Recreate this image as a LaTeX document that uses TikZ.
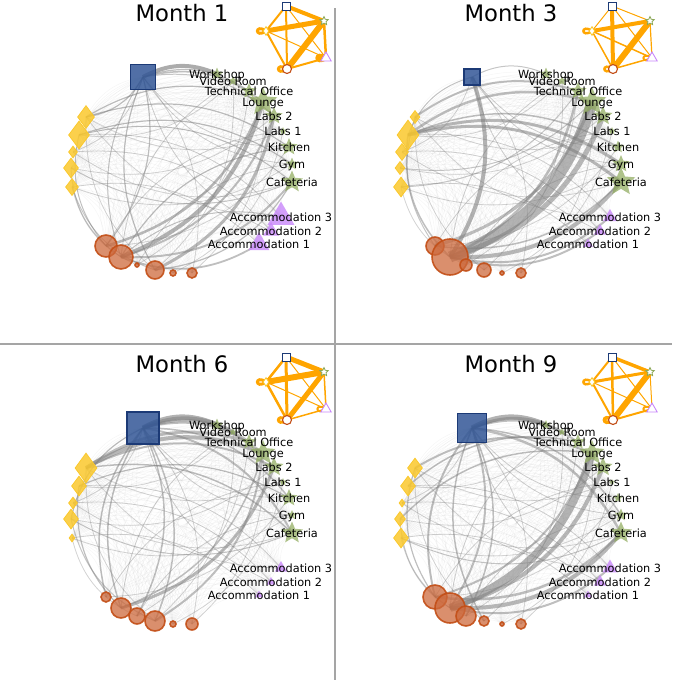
\documentclass[tikz,border=0pt]{standalone}
\usepackage{fontspec}
\setmainfont{DejaVu Sans}
\usetikzlibrary{shapes.geometric}
\definecolor{edgegray}{RGB}{128,128,128}
\definecolor{sqblue}{RGB}{50,86,150}
\definecolor{sqedge}{RGB}{28,58,118}
\definecolor{dyellow}{RGB}{250,200,45}
\definecolor{corange}{RGB}{205,105,60}
\definecolor{corangeedge}{RGB}{195,78,22}
\definecolor{sgreen}{RGB}{140,168,88}
\definecolor{tpurple}{RGB}{200,135,250}
\definecolor{insetorange}{RGB}{255,165,0}
\definecolor{divgray}{RGB}{165,165,165}
\tikzset{
 meshedge/.style={draw=edgegray, draw opacity=0.08, line width=0.5pt},
 midedge/.style={draw=edgegray, draw opacity=0.35, line width=0.8pt},
 mainedge/.style={draw=edgegray},
 curv/.style={bend right=26},
 sqnode/.style={rectangle, fill=sqblue, fill opacity=0.85, draw=sqedge, line width=1.2pt, inner sep=0pt},
 dianode/.style={diamond, fill=dyellow, fill opacity=0.85, draw=dyellow, line width=0.8pt, inner sep=0pt},
 cirnode/.style={circle, fill=corange, fill opacity=0.75, draw=corangeedge, draw opacity=0.9, line width=1.6pt, inner sep=0pt},
 starnode/.style={star, star points=5, star point ratio=2.2, fill=sgreen, fill opacity=0.7, inner sep=0pt},
 trinode/.style={regular polygon, regular polygon sides=3, fill=tpurple, fill opacity=0.8, inner sep=0pt},
 lbl/.style={font=\fontsize{11.3}{13}\selectfont, anchor=base, inner sep=0pt, text=black},
 ttl/.style={font=\fontsize{22.7}{27}\selectfont, anchor=base, inner sep=0pt},
 iedge/.style={draw=insetorange},
 iloop/.style={draw=insetorange, out=145, in=215, looseness=1, min distance=14pt},
 isq/.style={rectangle, draw=sqedge, fill=white, line width=1pt, minimum size=8pt, inner sep=0pt},
 istar/.style={star, star points=5, star point ratio=2.1, draw=sgreen, fill=white, line width=0.8pt, minimum size=9pt, inner sep=0pt},
 idia/.style={diamond, draw=dyellow, fill=white, line width=0.9pt, minimum width=6pt, minimum height=9pt, inner sep=0pt},
 itri/.style={regular polygon, regular polygon sides=3, draw=tpurple, fill=white, line width=0.9pt, minimum size=12pt, inner sep=0pt},
 icir/.style={circle, draw=corangeedge, fill=white, line width=1.1pt, minimum size=9pt, inner sep=0pt},
 divider/.style={draw=divgray, line width=2pt}
}
\def\midlist{B/G7,B/G8,Y1/G6,Y3/G9,Y5/G8,O1/G7,O6/G4,O3/G3,P2/Y3,P1/Y5,O5/G6,Y1/P3,B/P2,O4/G2,Y2/G2,Y4/G5,O6/B,G6/O1,Y3/B,Y5/O3,P3/Y2,G2/O2,Y1/O4,G8/O3}
\newcommand{\panelbody}{%
 \coordinate (B) at (143,77);
 \coordinate (Y1) at (86,117); \coordinate (Y2) at (79,135); \coordinate (Y3) at (73,152);
 \coordinate (Y4) at (71,168); \coordinate (Y5) at (72,187);
 \coordinate (O1) at (106,246); \coordinate (O2) at (121,257); \coordinate (O3) at (137,265);
 \coordinate (O4) at (155,270); \coordinate (O5) at (173,273); \coordinate (O6) at (192,273);
 \coordinate (G1) at (217,74); \coordinate (G2) at (233,81); \coordinate (G3) at (249,91);
 \coordinate (G4) at (263,102); \coordinate (G5) at (274,116); \coordinate (G6) at (283,131);
 \coordinate (G7) at (289,147); \coordinate (G8) at (292,164); \coordinate (G9) at (292,182);
 \coordinate (P3) at (281,217); \coordinate (P2) at (271,231); \coordinate (P1) at (259,244);
 \foreach \a [count=\i] in {B,G1,G2,G3,G4,G5,G6,G7,G8,G9,P3,P2,P1,O6,O5,O4,O3,O2,O1,Y5,Y4,Y3,Y2,Y1}{
   \foreach \b [count=\j] in {B,G1,G2,G3,G4,G5,G6,G7,G8,G9,P3,P2,P1,O6,O5,O4,O3,O2,O1,Y5,Y4,Y3,Y2,Y1}{
     \ifnum\j>\i\relax \draw[meshedge] (\a) to[curv] (\b);\fi
   }
 }
 \foreach \a/\b in \midlist {\draw[midedge] (\a) to[curv] (\b);}
 \foreach \a/\b/\w/\o in \Elist {\draw[mainedge, line width=\w pt, draw opacity=\o] (\a) to[curv] (\b);}
 \foreach \n/\h/\w in \Ylist {\node[dianode, minimum height=\h pt, minimum width=\w pt] (n\n) at (\n) {};}
 \node[sqnode, minimum size=\Bsize pt] (nB) at (B) {};
 \foreach \n/\d in \Olist {\node[cirnode, minimum size=\d pt] (n\n) at (\n) {};}
 \foreach \n/\d in \Glist {\node[starnode, minimum size=\d pt] (n\n) at (\n) {};}
 \foreach \n/\d in \Plist {\node[trinode, minimum size=\d pt] (n\n) at (\n) {};}
 \foreach \n/\t in {G1/Workshop,G2/Video Room,G3/Technical Office,G4/Lounge,G5/Labs 2,G6/Labs 1,G7/Kitchen,G8/Gym,G9/Cafeteria,P3/Accommodation 3,P2/Accommodation 2,P1/Accommodation 1}{\node[lbl, yshift=-4pt] (l\n) at (\n) {\t};}
 \node[ttl] (title) at (182,21) {\paneltitle};
 \begin{scope}[shift={(\ishift,0)}]
  \coordinate (iS) at (286,6); \coordinate (iG) at (324,21); \coordinate (iY) at (266,31);
  \coordinate (iP) at (326,58); \coordinate (iO) at (287,69);
  \foreach \a/\b/\w in \Ilist {\draw[iedge, line width=\w pt] (\a) -- (\b);}
  \foreach \a/\w in \Loops {\draw[iloop, line width=\w pt] (\a) to (\a);}
  \node[isq] (niS) at (iS) {};
  \node[istar] (niG) at (iG) {};
  \node[idia] (niY) at (iY) {};
  \node[itri] (niP) at (iP) {};
  \node[icir] (niO) at (iO) {};
 \end{scope}
}
\begin{document}
\begin{tikzpicture}[x=1pt,y=-1pt]
\useasboundingbox (0,0) rectangle (672,680);
% ---------- Month 1
\def\paneltitle{Month 1}\def\ishift{0}\def\Bsize{25}
\def\Ylist{Y1/23/17,Y2/28/21,Y3/12/9,Y4/20/15,Y5/17/13}
\def\Olist{O1/22,O2/24,O3/4,O4/18,O5/6,O6/10}
\def\Glist{G1/13,G2/10,G3/16,G4/30,G5/18,G6/8,G7/18,G8/13,G9/23}
\def\Plist{P3/31,P2/18,P1/24}
\def\Elist{G1/B/4/0.65,O2/G4/4/0.6,O1/G4/2.5/0.55,O4/G5/3/0.55,O2/G5/2/0.5,O2/G9/2/0.5,O2/P1/1.8/0.5,O4/G9/1.2/0.5,O1/B/1.2/0.5,B/O4/1.2/0.5,B/O2/1/0.45,G4/Y1/1.2/0.5,G7/Y1/1.2/0.5,G8/Y2/1.2/0.5,G9/Y2/1/0.5,Y2/O1/1/0.5,Y1/B/1.2/0.5,Y4/G9/1/0.45,G3/B/1.2/0.5,G4/B/1.5/0.5,G5/B/1/0.45,G7/O2/1.2/0.5,P3/O2/1/0.45,Y4/O2/1/0.45,Y5/O4/0.9/0.45}
\def\Ilist{iS/iG/4,iS/iY/2,iS/iO/2,iS/iP/1,iY/iG/5,iY/iP/1,iY/iO/2,iG/iO/6,iG/iP/2.5,iO/iP/2}
\def\Loops{iY/3,iO/3,iP/4}
\begin{scope}[name prefix=a-]\panelbody\end{scope}
% ---------- Month 3
\def\paneltitle{Month 3}\def\ishift{-3}\def\Bsize{16}
\def\Ylist{Y1/13/10,Y2/30/22,Y3/17/13,Y4/13/10,Y5/20/15}
\def\Olist{O1/18,O2/36,O3/12,O4/14,O5/4,O6/10}
\def\Glist{G1/13,G2/10,G3/18,G4/30,G5/20,G6/8,G7/13,G8/18,G9/30}
\def\Plist{P3/16,P2/14,P1/11}
\def\Elist{O2/G4/11/0.6,O2/G5/5/0.55,O1/G4/3/0.5,O2/G3/2.5/0.5,O2/B/4/0.6,G8/Y2/3/0.55,G9/Y2/3/0.55,G4/Y2/2.5/0.5,G3/Y1/2/0.5,G7/Y2/1.5/0.5,O2/G9/4/0.55,O2/P3/2/0.5,O2/P2/2/0.5,O1/G9/1.5/0.5,Y2/O2/1.5/0.5,G1/B/1/0.45,B/Y2/1/0.45,Y1/O1/1/0.45,Y4/G4/1/0.45,Y5/G3/1/0.45}
\def\Ilist{iS/iG/1,iS/iY/1,iS/iO/4,iS/iP/1,iY/iG/4,iY/iP/1.5,iY/iO/1.5,iG/iO/6,iG/iP/1.2,iO/iP/1.5}
\def\Loops{iY/2.5,iO/2.5,iP/2}
\begin{scope}[shift={(329,0)}, name prefix=b-]\panelbody\end{scope}
% ---------- Month 6
\def\paneltitle{Month 6}\def\ishift{0}\def\Bsize{32}
\def\Ylist{Y1/30/22,Y2/20/15,Y3/12/9,Y4/20/15,Y5/8/6}
\def\Olist{O1/10,O2/20,O3/16,O4/20,O5/6,O6/12}
\def\Glist{G1/13,G2/8,G3/16,G4/26,G5/20,G6/8,G7/18,G8/10,G9/23}
\def\Plist{P3/14,P2/10,P1/9}
\def\Elist{G1/B/5/0.6,G2/B/4/0.55,G3/B/3/0.5,G4/B/2/0.5,G4/Y1/4/0.55,G3/Y1/3/0.5,G5/Y1/2/0.5,G9/Y1/1.5/0.5,G7/Y2/1.2/0.5,O2/G5/3/0.55,O4/G4/2/0.5,O2/G4/1.5/0.5,G9/B/2/0.5,G7/B/1.5/0.5,B/O1/1.5/0.5,B/O2/1.5/0.5,O3/B/1.5/0.5,O4/B/1.5/0.5,B/Y4/1.2/0.5,Y2/O2/1.2/0.5,Y4/O4/1/0.45,Y4/G9/1/0.45}
\def\Ilist{iS/iG/5,iS/iY/2.5,iS/iO/3,iS/iP/1,iY/iG/6,iY/iP/1,iY/iO/2.5,iG/iO/5,iG/iP/1.5,iO/iP/1.5}
\def\Loops{iY/3,iO/3,iP/2}
\begin{scope}[shift={(0,351)}, name prefix=c-]\panelbody\end{scope}
% ---------- Month 9
\def\paneltitle{Month 9}\def\ishift{-3}\def\Bsize{29}
\def\Ylist{Y1/20/15,Y2/20/15,Y3/8/6,Y4/15/11,Y5/20/15}
\def\Olist{O1/24,O2/30,O3/20,O4/10,O5/4,O6/10}
\def\Glist{G1/10,G2/8,G3/16,G4/26,G5/20,G6/6,G7/10,G8/13,G9/23}
\def\Plist{P3/17,P2/14,P1/9}
\def\Elist{O2/G4/8/0.6,O2/G5/4/0.55,O1/G4/2/0.5,G1/B/5/0.6,G2/B/3/0.55,G3/B/2/0.5,O2/G9/4/0.55,O1/G9/2.5/0.5,O2/P3/2/0.5,G9/B/2.5/0.5,G8/B/1.5/0.5,B/O1/2/0.5,O2/B/2/0.5,O3/B/1.5/0.5,B/O4/1.5/0.5,G4/Y1/2/0.5,G3/Y2/1.5/0.5,G4/Y4/1.5/0.5,Y1/O1/1.2/0.5,Y4/O2/1/0.45,Y5/G9/1/0.45}
\def\Ilist{iS/iG/3.5,iS/iY/2,iS/iO/2.5,iS/iP/1,iY/iG/3,iY/iP/1,iY/iO/2,iG/iO/6,iG/iP/1,iO/iP/2}
\def\Loops{iY/2.5,iO/3.5,iP/2}
\begin{scope}[shift={(329,351)}, name prefix=d-]\panelbody\end{scope}
% ---------- dividers
\coordinate (vtop) at (335,8); \coordinate (vbot) at (335,680);
\coordinate (hl) at (0,344); \coordinate (hr) at (672,344);
\draw[divider] (vtop) -- (vbot);
\draw[divider] (hl) -- (hr);
\end{tikzpicture}
\end{document}
